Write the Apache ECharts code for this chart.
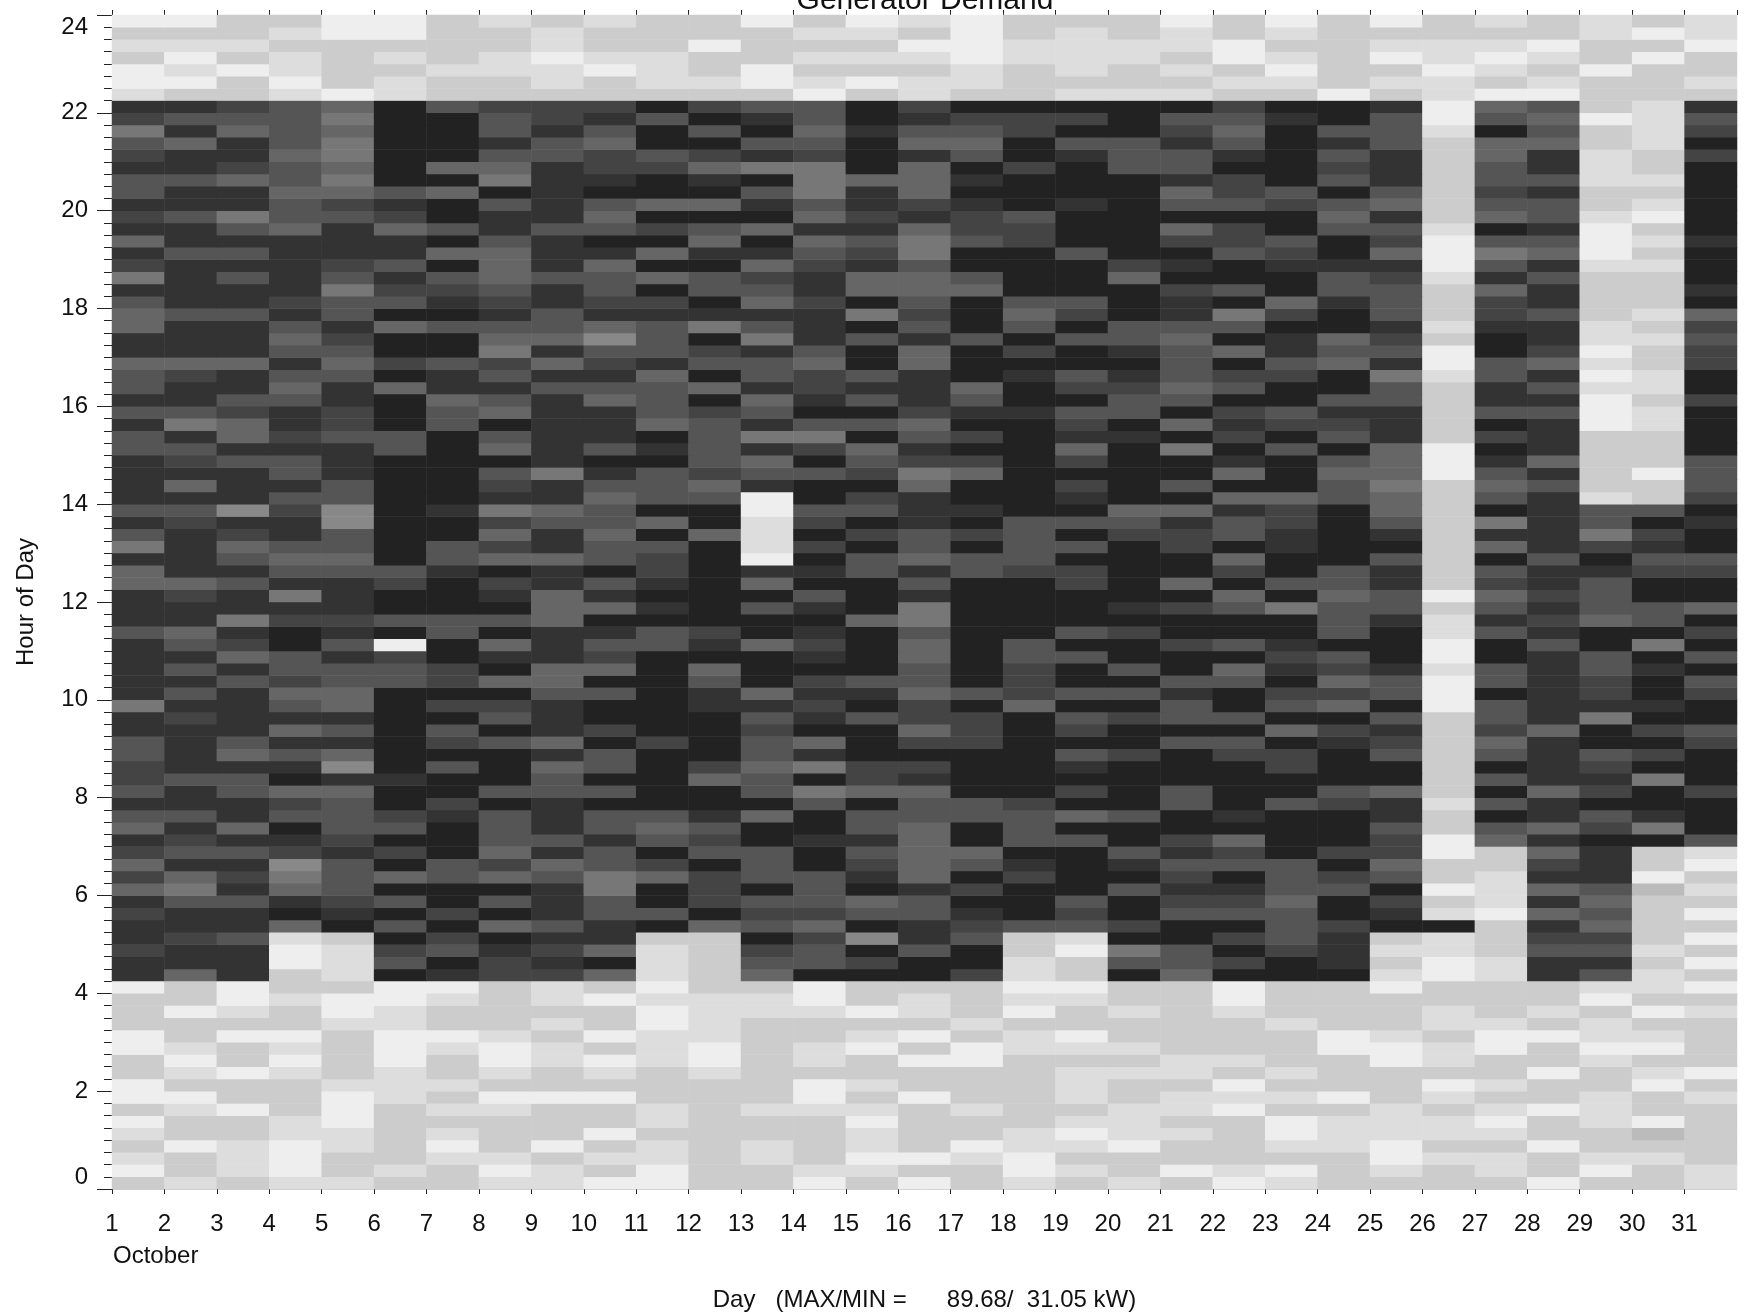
<!DOCTYPE html>
<html>
<head>
<meta charset="utf-8">
<title>Generator Demand</title>
<script src="https://cdn.jsdelivr.net/npm/echarts@6/dist/echarts.min.js"></script>
<style>
  html, body { margin: 0; padding: 0; background: #fff; }
  #main { width: 1747px; height: 1315px; }
</style>
</head>
<body>
<div id="main"></div>
<script>
// kW for every quarter hour, one array per quarter (q0 = 00:00), one value per day of October
var q95 = [33,33,43,43,33,33,43,38,43,38,43,43,33,43,33,38,33,43,43,43,33,43,33,43,33,43,38,43,38,43,38];
var q94 = [43,43,43,38,33,33,43,43,38,43,43,43,43,38,38,43,33,43,38,43,38,43,38,43,43,43,43,43,38,33,38];
var q93 = [38,38,38,43,43,43,43,43,38,43,43,33,43,43,43,33,33,38,38,38,38,33,43,43,38,38,38,33,43,43,33];
var q92 = [43,33,43,38,43,38,43,38,33,38,38,43,43,38,38,38,33,38,38,38,43,33,38,43,33,38,33,38,43,33,43];
var q91 = [33,38,33,38,43,43,38,38,38,33,38,43,33,43,43,43,38,43,38,43,38,43,33,43,43,33,38,43,33,43,43];
var q90 = [33,33,43,33,43,38,43,43,38,43,38,38,33,38,33,38,38,43,43,43,43,38,38,43,38,38,43,38,43,43,38];
var q89 = [38,43,43,38,33,38,43,43,43,43,43,43,43,33,43,38,43,43,38,38,38,43,43,33,43,38,33,33,43,43,43];
var q88 = [86,86,82,77,72,89,77,82,82,82,89,82,77,77,89,82,89,89,89,89,89,82,89,89,86,33,72,77,43,38,86];
var q87 = [82,77,77,77,67,89,89,77,82,86,77,89,86,77,89,86,82,82,82,89,77,77,86,89,77,33,77,72,33,38,77];
var q86 = [67,86,72,77,72,89,89,77,86,77,89,77,89,72,86,77,77,82,89,89,82,72,89,77,77,38,89,77,43,38,82];
var q85 = [77,72,86,77,67,89,89,86,77,72,89,89,77,77,89,72,72,89,77,77,86,77,89,86,77,43,72,72,43,38,89];
var q84 = [82,86,86,72,67,89,89,77,77,82,77,82,86,82,89,86,77,89,86,77,77,86,89,77,86,43,72,86,38,43,82];
var q83 = [86,86,82,77,72,89,72,72,86,82,82,72,67,67,89,72,89,82,89,77,77,89,89,82,86,43,77,86,38,43,89];
var q82 = [77,77,72,77,67,89,89,67,86,86,89,86,89,67,72,72,86,89,89,89,86,82,89,77,86,43,77,77,38,38,89];
var q81 = [77,86,86,72,72,77,72,89,86,89,89,89,77,67,86,72,89,89,89,89,72,82,77,89,77,43,82,86,43,43,89];
var q80 = [86,86,86,77,82,86,89,77,86,77,72,72,86,77,86,82,86,89,86,89,77,77,82,77,72,43,77,77,43,38,89];
var q79 = [82,77,67,77,77,82,89,86,86,72,89,89,89,72,82,86,82,77,89,89,89,89,89,72,86,43,72,77,38,33,89];
var q78 = [86,86,77,72,86,72,77,86,77,77,82,77,72,86,86,72,82,82,89,89,72,82,89,77,77,38,89,86,33,43,89];
var q77 = [72,86,86,86,86,86,89,77,86,89,89,72,89,72,77,67,77,82,89,89,82,82,77,89,82,33,77,77,33,38,86];
var q76 = [86,77,77,86,86,86,72,72,86,86,72,86,86,77,82,67,89,89,77,89,89,77,82,89,72,33,67,72,33,43,89];
var q75 = [82,86,86,86,82,77,89,72,86,72,89,89,72,82,86,77,89,89,89,82,86,89,86,86,86,33,77,86,38,38,89];
var q74 = [67,86,77,86,77,86,77,72,77,77,72,77,82,86,72,72,77,89,89,72,89,89,89,77,82,38,86,77,43,43,89];
var q73 = [86,86,86,86,67,82,82,77,86,77,89,77,77,86,72,72,72,89,89,89,82,77,89,77,77,43,72,86,43,43,86];
var q72 = [77,86,86,82,77,77,86,82,86,82,82,89,72,82,89,77,89,77,77,89,86,89,72,86,77,43,82,86,43,43,89];
var q71 = [72,77,77,86,77,89,89,86,77,86,86,86,86,86,67,82,89,72,82,89,86,67,82,89,77,43,82,77,43,38,72];
var q70 = [72,86,86,77,86,72,77,77,77,72,77,67,77,86,89,77,89,77,89,77,77,77,89,89,86,38,86,86,38,43,82];
var q69 = [86,86,86,72,82,89,89,72,72,62,77,89,67,86,77,86,77,89,77,77,72,89,86,72,82,43,89,86,38,38,77];
var q68 = [86,86,86,77,77,89,89,67,86,77,77,82,86,77,89,72,89,82,89,86,77,72,86,77,77,33,89,82,33,43,82];
var q67 = [72,72,72,86,72,82,77,82,72,82,86,77,77,72,89,72,89,89,89,89,77,89,77,72,86,33,77,72,38,43,82];
var q66 = [77,82,86,77,77,89,86,77,86,86,72,89,77,82,77,86,89,86,77,86,77,82,82,89,67,38,77,86,33,38,89];
var q65 = [77,86,86,72,86,72,86,86,77,77,77,72,86,82,86,86,72,89,82,82,72,77,89,89,77,43,86,77,38,38,89];
var q64 = [86,86,77,77,86,89,72,77,86,72,77,89,72,86,77,86,77,89,89,77,77,89,89,77,77,43,86,86,33,43,82];
var q63 = [77,77,82,86,82,89,77,72,86,86,77,82,77,89,89,82,86,86,77,77,89,82,77,86,86,43,77,77,33,38,89];
var q62 = [86,67,72,86,82,89,77,89,86,86,72,77,86,77,77,72,89,89,82,89,72,86,82,82,86,43,89,86,33,38,89];
var q61 = [77,86,72,82,77,77,89,77,86,86,89,77,67,67,89,77,82,89,86,86,89,82,89,77,86,43,82,86,43,43,89];
var q60 = [77,77,86,86,86,77,89,72,86,77,86,77,86,82,72,86,89,89,72,89,67,89,77,89,72,33,89,86,43,43,89];
var q59 = [86,82,77,77,86,89,89,89,86,89,89,77,72,89,77,82,82,89,82,89,89,86,89,77,72,33,86,72,43,43,77];
var q58 = [86,86,86,77,86,89,89,77,67,86,77,82,77,77,82,67,72,89,89,89,89,72,89,72,72,33,77,86,43,33,77];
var q57 = [86,72,86,86,77,89,89,82,86,77,77,72,86,89,89,72,89,89,82,89,77,89,89,77,67,43,72,77,43,43,77];
var q56 = [86,86,86,77,77,89,89,86,86,72,77,77,33,89,82,86,89,89,86,89,89,72,72,77,72,43,77,86,38,43,82];
var q55 = [77,77,62,82,62,89,86,67,72,77,89,89,33,77,77,86,86,89,89,72,72,86,82,89,72,43,89,86,77,77,89];
var q54 = [86,82,86,86,62,89,89,82,77,77,72,89,38,82,89,86,89,77,77,77,86,77,82,89,77,43,67,86,77,89,86];
var q53 = [77,86,82,86,77,89,89,72,86,72,89,72,38,89,82,77,82,77,89,82,82,77,86,89,86,43,86,86,67,82,89];
var q52 = [67,86,72,77,77,89,77,82,86,77,77,89,38,82,89,77,89,77,77,89,82,89,86,89,89,43,72,86,82,86,89];
var q51 = [86,86,77,72,72,89,77,72,72,77,82,89,33,89,77,72,77,77,89,89,89,72,89,89,77,43,89,77,89,77,77];
var q50 = [72,86,86,77,77,77,86,89,86,89,82,89,86,86,77,86,77,82,82,89,89,82,89,77,86,43,77,86,86,82,82];
var q49 = [72,72,77,86,86,82,89,82,86,77,86,89,72,89,89,77,89,89,82,89,72,89,77,77,86,43,82,86,77,89,89];
var q48 = [86,82,86,67,86,89,89,86,72,86,89,89,89,77,89,86,89,89,89,89,89,72,89,72,77,33,72,82,77,89,89];
var q47 = [86,86,86,86,86,89,89,89,72,72,86,89,77,86,89,67,89,89,89,86,82,77,67,77,77,43,77,86,77,77,72];
var q46 = [86,86,67,82,82,77,77,77,72,89,89,89,89,89,72,67,89,89,89,89,89,89,89,77,86,38,86,82,72,77,89];
var q45 = [77,72,86,89,86,89,77,89,86,86,77,82,89,86,89,77,89,89,77,82,89,89,89,77,89,38,77,86,89,89,82];
var q44 = [86,77,82,89,77,33,89,72,86,77,77,86,72,82,89,72,89,77,89,89,82,77,86,89,89,33,89,77,89,67,89];
var q43 = [86,86,72,77,86,82,89,86,86,82,89,89,89,86,89,72,89,77,77,89,89,89,82,77,89,33,89,86,77,89,77];
var q42 = [86,77,86,77,77,77,82,89,72,72,89,72,89,89,89,77,89,82,89,77,89,72,86,82,86,38,77,86,77,86,89];
var q41 = [86,86,77,82,77,77,82,72,72,89,89,77,89,82,77,77,89,82,89,89,77,77,89,72,77,33,77,86,82,89,77];
var q40 = [86,77,86,72,72,89,89,89,77,77,89,86,72,86,86,72,77,82,77,77,86,89,82,82,77,33,89,86,82,89,82];
var q39 = [67,86,86,77,72,89,82,82,86,89,89,86,86,82,89,82,89,72,89,89,77,89,77,72,89,33,77,86,86,86,89];
var q38 = [86,82,86,86,86,89,89,77,86,89,89,89,77,86,77,82,82,89,77,82,77,77,89,89,77,43,77,86,67,89,89];
var q37 = [86,86,86,72,77,89,77,89,86,82,89,89,82,89,89,72,82,89,82,89,89,89,72,82,86,43,82,72,89,82,77];
var q36 = [77,86,77,86,86,89,82,77,72,89,82,89,77,72,89,82,82,89,89,89,77,77,89,86,82,43,72,86,89,89,82];
var q35 = [77,86,72,77,72,89,89,89,86,77,89,89,77,86,89,89,89,89,77,82,89,82,82,89,77,43,77,86,77,82,89];
var q34 = [82,86,86,86,62,89,77,89,72,77,89,82,72,67,82,82,89,89,86,89,89,89,82,89,89,43,89,86,82,89,89];
var q33 = [82,77,77,89,86,86,89,89,77,89,89,72,77,89,82,86,89,89,89,89,89,89,89,89,89,43,77,86,86,67,89];
var q32 = [77,86,77,72,72,89,89,77,77,77,89,89,77,67,72,72,89,89,82,89,77,89,89,77,72,43,89,72,82,89,82];
var q31 = [86,86,86,82,77,89,82,89,86,89,89,89,89,77,89,77,77,82,89,89,77,89,77,82,86,38,77,86,89,89,89];
var q30 = [77,77,86,77,77,82,86,77,86,77,77,86,72,89,77,77,77,77,72,77,89,86,89,89,86,43,89,86,77,86,89];
var q29 = [72,86,72,89,77,77,89,77,86,77,72,77,89,89,77,72,89,77,89,89,89,89,89,89,77,43,77,72,82,67,89];
var q28 = [86,82,86,86,82,89,89,77,77,86,77,82,89,86,86,72,89,77,77,89,82,72,89,89,82,33,72,86,89,89,77];
var q27 = [82,77,77,82,86,82,89,72,86,77,89,77,77,89,77,72,72,89,89,77,86,82,89,82,82,33,43,72,86,43,38];
var q26 = [72,86,86,62,77,89,77,82,72,77,82,89,77,89,82,72,77,86,89,86,77,77,77,89,72,43,43,82,86,43,33];
var q25 = [82,72,82,67,77,72,77,72,77,67,72,82,77,77,86,72,89,82,89,89,82,89,77,82,77,43,38,86,86,33,43];
var q24 = [72,67,86,72,77,89,89,89,86,67,89,82,89,77,89,86,82,89,89,77,86,86,77,77,89,33,38,72,77,48,38];
var q23 = [86,77,77,86,82,77,89,77,86,77,89,82,77,77,72,77,89,89,77,89,82,82,72,89,82,43,38,86,72,43,43];
var q22 = [82,86,86,89,86,89,82,89,86,77,77,89,82,82,77,77,86,89,82,89,77,77,77,89,86,38,33,72,77,43,33];
var q21 = [86,86,86,72,89,77,89,72,77,86,89,72,77,72,89,86,82,77,77,82,89,89,77,82,89,89,43,86,72,43,43];
var q20 = [86,82,77,38,43,89,82,89,86,86,43,43,89,82,62,86,77,43,38,89,89,82,77,86,43,38,43,82,82,43,33];
var q19 = [82,86,86,33,38,82,77,86,82,72,38,43,82,77,89,77,89,43,33,67,77,89,82,86,38,38,43,77,77,38,43];
var q18 = [86,86,86,33,38,77,89,82,86,89,38,43,77,77,82,89,89,38,43,77,77,82,89,86,43,33,38,86,86,43,33];
var q17 = [86,72,86,43,38,89,86,82,82,72,38,43,72,89,89,89,82,38,43,89,72,89,89,89,38,33,38,86,77,38,43];
var q16 = [33,43,33,43,43,33,33,43,38,43,33,43,43,33,43,43,43,33,33,43,43,33,43,43,33,43,43,43,38,38,33];
var q15 = [43,43,33,38,33,33,38,43,38,33,38,38,38,33,43,38,43,38,38,43,43,33,43,43,43,43,43,43,33,43,43];
var q14 = [43,33,38,43,33,38,43,43,43,43,33,38,38,38,33,38,43,33,43,38,43,38,43,43,43,38,43,38,43,33,38];
var q13 = [43,43,43,43,38,38,43,43,38,43,33,38,43,43,43,43,38,43,43,43,43,43,38,43,43,38,38,43,38,43,43];
var q12 = [33,43,33,33,43,33,33,38,43,33,38,38,43,43,38,33,43,38,33,43,43,43,43,33,38,43,33,33,38,38,43];
var q11 = [33,38,43,38,43,33,38,33,38,43,38,33,43,38,33,43,33,38,38,38,43,43,43,33,33,38,33,43,33,33,43];
var q10 = [43,33,43,33,43,33,43,33,38,33,38,33,43,38,43,33,33,43,43,43,38,38,43,43,33,38,43,43,38,43,43];
var q9 = [43,38,33,38,43,38,43,38,43,38,43,38,43,43,43,43,43,43,38,38,38,43,38,43,43,43,43,33,43,38,33];
var q8 = [33,43,43,43,38,38,38,43,43,43,43,43,43,33,38,43,43,43,38,43,43,33,43,43,43,33,38,43,43,33,43];
var q7 = [33,33,43,43,33,38,43,33,33,33,43,43,43,33,43,33,43,43,38,43,38,38,38,33,43,38,43,43,38,43,38];
var q6 = [43,38,33,43,33,43,38,38,43,43,38,43,38,38,38,43,38,43,43,38,38,33,43,43,38,43,38,33,38,43,43];
var q5 = [33,43,43,38,33,43,43,43,43,43,38,43,43,43,33,43,43,43,38,38,43,43,33,38,38,38,33,43,38,33,43];
var q4 = [38,43,43,38,38,43,38,43,43,33,43,43,43,43,38,43,43,38,33,38,38,43,33,38,38,38,38,43,43,48,43];
var q3 = [43,33,38,33,38,43,33,43,33,43,38,43,38,43,38,43,33,38,38,33,43,43,38,38,33,43,43,33,43,43,43];
var q2 = [38,43,38,33,43,43,38,38,43,38,38,43,38,43,33,33,38,33,43,43,43,43,43,43,33,38,38,43,38,38,43];
var q1 = [33,43,38,33,43,38,43,33,38,43,33,43,43,38,38,43,43,33,38,43,33,38,33,43,38,43,38,43,33,43,38];
var q0 = [43,38,43,38,38,43,43,38,38,33,33,43,43,33,43,33,43,38,43,38,43,33,38,43,43,43,43,33,43,43,38];

var quarters = [q0,q1,q2,q3,q4,q5,q6,q7,q8,q9,q10,q11,q12,q13,q14,q15,q16,q17,q18,q19,q20,q21,q22,q23,
    q24,q25,q26,q27,q28,q29,q30,q31,q32,q33,q34,q35,q36,q37,q38,q39,q40,q41,q42,q43,q44,q45,q46,q47,
    q48,q49,q50,q51,q52,q53,q54,q55,q56,q57,q58,q59,q60,q61,q62,q63,q64,q65,q66,q67,q68,q69,q70,q71,
    q72,q73,q74,q75,q76,q77,q78,q79,q80,q81,q82,q83,q84,q85,q86,q87,q88,q89,q90,q91,q92,q93,q94,q95];
var days = ['1','2','3','4','5','6','7','8','9','10','11','12','13','14','15','16','17','18','19','20',
    '21','22','23','24','25','26','27','28','29','30','31'];

var cells = [];
quarters.forEach(function (row, q) {
    row.forEach(function (kw, d) {
        cells.push([d, q, kw]);
    });
});

var labelFont = '"Liberation Sans", sans-serif';
var tickColor = '#222';

var chart = echarts.init(document.getElementById('main'));
var option = {
    animation: false,
    backgroundColor: '#fff',
    title: {
        text: 'Generator Demand',
        left: 920,
        top: -19,
        textAlign: 'center',
        textStyle: { fontFamily: labelFont, fontSize: 30, fontWeight: 'normal', color: '#111' }
    },
    grid: { left: 112, top: 15, width: 1625, height: 1174, outerBoundsMode: 'none' },
    visualMap: {
        show: false,
        type: 'piecewise',
        dimension: 2,
        seriesIndex: 0,
        pieces: [
            { min: 31, max: 35, color: '#eeeeee' },
            { min: 36, max: 40, color: '#dddddd' },
            { min: 41, max: 45, color: '#cccccc' },
            { min: 46, max: 50, color: '#bbbbbb' },
            { min: 60, max: 64, color: '#888888' },
            { min: 65, max: 69, color: '#777777' },
            { min: 70, max: 74, color: '#666666' },
            { min: 75, max: 79, color: '#555555' },
            { min: 80, max: 84, color: '#444444' },
            { min: 85, max: 87, color: '#333333' },
            { min: 88, max: 90, color: '#222222' }
        ]
    },
    xAxis: [
        { type: 'category', data: days, show: false },
        {
            type: 'value', min: 1, max: 32, interval: 1, position: 'bottom',
            name: 'Day   (MAX/MIN =      89.68/  31.05 kW)',
            nameLocation: 'middle',
            nameGap: 99,
            nameTextStyle: { fontFamily: labelFont, fontSize: 24, color: '#111' },
            axisLine: { show: true, lineStyle: { color: '#ccc', width: 1 } },
            axisTick: { show: true, length: 5, lineStyle: { color: tickColor, width: 1 } },
            axisLabel: { show: true, showMaxLabel: false, margin: 23, fontFamily: labelFont, fontSize: 24, color: '#111' },
            splitLine: { show: false }
        },
        {
            type: 'value', min: 1, max: 32, interval: 1, position: 'top',
            axisLine: { show: false },
            axisTick: { show: true, length: 5, lineStyle: { color: tickColor, width: 1 } },
            axisLabel: { show: false },
            splitLine: { show: false }
        }
    ],
    yAxis: [
        { type: 'category', data: quarters.map(function (r, i) { return i; }), show: false },
        {
            type: 'value', min: 0, max: 24, interval: 2, position: 'left',
            name: 'Hour of Day',
            nameLocation: 'middle',
            nameGap: 74,
            nameRotate: 90,
            nameTextStyle: { fontFamily: labelFont, fontSize: 24, color: '#111' },
            axisLine: { show: false },
            axisTick: { show: true, length: 15, lineStyle: { color: tickColor, width: 1 } },
            minorTick: { show: true, splitNumber: 8, length: 8, lineStyle: { color: tickColor, width: 1 } },
            axisLabel: {
                show: true, margin: 24,
                verticalAlignMaxLabel: 'top', verticalAlignMinLabel: 'bottom',
                fontFamily: labelFont, fontSize: 24, color: '#111'
            },
            splitLine: { show: false }
        }
    ],
    series: [{
        type: 'heatmap',
        xAxisIndex: 0,
        yAxisIndex: 0,
        data: cells,
        progressive: 0,
        silent: true,
        itemStyle: { borderWidth: 0 }
    }],
    graphic: [{
        type: 'text',
        left: 113,
        top: 1244,
        style: { text: 'October', font: '24px ' + labelFont, fill: '#111' }
    }]
};
chart.setOption(option);
</script>
</body>
</html>
